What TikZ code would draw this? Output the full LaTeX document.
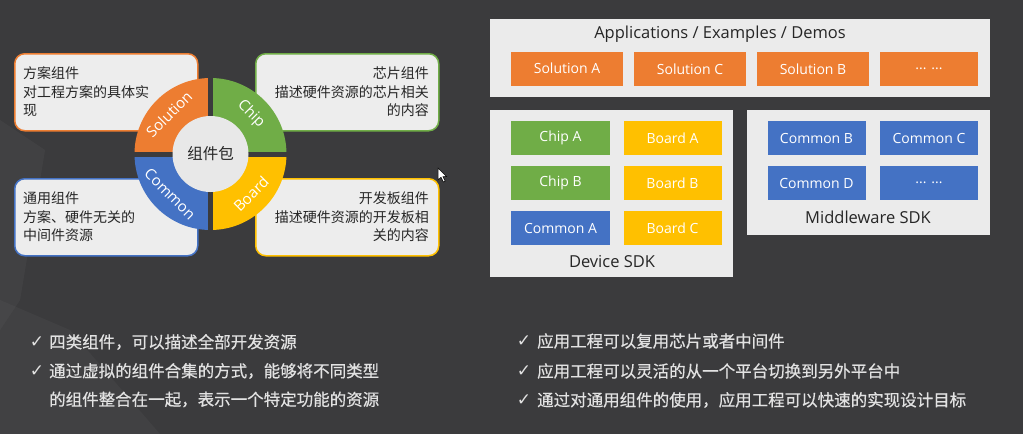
\documentclass[tikz,border=0pt]{standalone}
\usepackage{fontspec}
\setmainfont{Open Sans}
\newfontfamily\cjk{Noto Sans CJK SC}
\newfontfamily\cjkb[FakeBold=0.5]{Noto Sans CJK SC}
\newfontfamily\dejavu{DejaVu Sans}
\definecolor{bg}{HTML}{3B3B3D}
\definecolor{panel}{HTML}{EBEBEB}
\definecolor{boxfill}{HTML}{EDEDED}
\definecolor{innerfill}{HTML}{E8E8E8}
\definecolor{corange}{HTML}{ED7D31}
\definecolor{cgreen}{HTML}{70AD47}
\definecolor{cyellow}{HTML}{FFC000}
\definecolor{cblue}{HTML}{4472C4}
\definecolor{txtdark}{HTML}{262626}
\definecolor{txtlight}{HTML}{E2E2E2}
\begin{document}
\begin{tikzpicture}[x=1pt,y=-1pt,
  descbox/.style={draw, line width=1.5pt, rounded corners=10pt, fill=boxfill,
    minimum width=183pt, minimum height=77pt, inner sep=0pt, anchor=north west},
  ltext/.style={inner sep=0pt, anchor=west, text=txtdark, font=\cjk\fontsize{14}{18.5}\selectfont},
  rtext/.style={inner sep=0pt, anchor=east, text=txtdark, font=\cjk\fontsize{14}{18.5}\selectfont},
  ringlabel/.style={text=white, font=\fontsize{15}{17}\selectfont, inner sep=0pt},
  panelbox/.style={fill=panel, inner sep=0pt, anchor=north west},
  cbox/.style={inner sep=0pt, minimum height=34pt, text=white,
    font=\fontsize{14}{16}\selectfont},
  paneltitle/.style={text=txtdark, font=\fontsize{16.5}{19}\selectfont, inner sep=0pt},
  bullettext/.style={anchor=west, inner sep=0pt, text=txtlight,
    font=\cjkb\fontsize{16.5}{20}\selectfont},
  checkmark/.style={inner sep=0pt, text=txtlight, font=\dejavu\fontsize{17}{19}\selectfont}
]
\useasboundingbox (0,0) rectangle (1023,434);
\fill[bg] (0,0) rectangle (1023,434);
% faint background shapes
\fill[white, opacity=0.035] (0,120) -- (45,150) -- (20,300) -- (0,330) -- cycle;
\fill[white, opacity=0.03] (0,300) -- (70,330) -- (160,434) -- (0,434) -- cycle;

% description boxes
\node[descbox, draw=corange] (soldesc) at (14,53) {};
\node[descbox, draw=cgreen] (chipdesc) at (255,53) {};
\node[descbox, draw=cblue] (comdesc) at (14,178) {};
\node[descbox, draw=cyellow] (boarddesc) at (255,178) {};
\node[ltext] (sol1) at (23,73.5) {方案组件};
\node[ltext] (sol2) at (23,92) {对工程方案的具体实};
\node[ltext] (sol3) at (23,110.5) {现};
\node[rtext] (chip1) at (429,73.5) {芯片组件};
\node[rtext] (chip2) at (429,92) {描述硬件资源的芯片相关};
\node[rtext] (chip3) at (429,110.5) {的内容};
\node[ltext] (com1) at (23,198.5) {通用组件};
\node[ltext] (com2) at (23,217) {方案、硬件无关的};
\node[ltext] (com3) at (23,235.5) {中间件资源};
\node[rtext] (board1) at (429,198.5) {开发板组件};
\node[rtext] (board2) at (429,217) {描述硬件资源的开发板相};
\node[rtext] (board3) at (429,235.5) {关的内容};

% ring
\coordinate (c) at (210.5,154);
\fill[corange] (c) -- ++(180:76) arc[start angle=180, end angle=270, radius=76] -- cycle;
\fill[cgreen]  (c) -- ++(270:76) arc[start angle=270, end angle=360, radius=76] -- cycle;
\fill[cyellow] (c) -- ++(0:76)   arc[start angle=0,   end angle=90,  radius=76] -- cycle;
\fill[cblue]   (c) -- ++(90:76)  arc[start angle=90,  end angle=180, radius=76] -- cycle;
\fill[bg] (208,77) rectangle (213,231);
\fill[bg] (134,151.6) rectangle (287,156.6);
\fill[innerfill] (c) circle[radius=38];
\node[inner sep=0pt, text=txtdark, font=\cjk\fontsize{15.5}{18}\selectfont] (pkg) at (c) {组件包};
\node[ringlabel, rotate=45]  (lsol)   at (169,114) {Solution};
\node[ringlabel, rotate=-45] (lchip)  at (251,114) {Chip};
\node[ringlabel, rotate=-45] (lcom)   at (170,194) {Common};
\node[ringlabel, rotate=45]  (lboard) at (251,194) {Board};

% mouse pointer
\fill[white, draw=black, line width=0.5pt] (438,168) -- (438,180) -- (441,177.2)
  -- (443.4,182) -- (445.2,181.2) -- (442.9,176.6) -- (446.6,176.6) -- cycle;

% right side panels
\node[panelbox, minimum width=500pt, minimum height=78pt] (apppanel) at (490,19) {};
\node[paneltitle] (apptitle) at (720,34) {Applications / Examples / Demos};
\node[cbox, fill=corange, minimum width=112pt] (solA) at (567,68.5) {Solution A};
\node[cbox, fill=corange, minimum width=112pt] (solC) at (690,69) {Solution C};
\node[cbox, fill=corange, minimum width=112pt] (solB) at (813,69) {Solution B};
\node[cbox, fill=corange, minimum width=98pt]  (solD) at (929,69) {... ...};

\node[panelbox, minimum width=243pt, minimum height=167pt] (devpanel) at (490,110) {};
\node[cbox, fill=cgreen,  minimum width=99pt] (chipA)  at (560.5,138) {Chip A};
\node[cbox, fill=cyellow, minimum width=98pt] (boardA) at (672.5,138) {Board A};
\node[cbox, fill=cgreen,  minimum width=99pt] (chipB)  at (560.5,183.3) {Chip B};
\node[cbox, fill=cyellow, minimum width=98pt] (boardB) at (672.5,183.3) {Board B};
\node[cbox, fill=cblue,   minimum width=99pt] (comA)   at (560.5,228) {Common A};
\node[cbox, fill=cyellow, minimum width=98pt] (boardC) at (672.5,228) {Board C};
\node[paneltitle] (devtitle) at (612,262) {Device SDK};

\node[panelbox, minimum width=243pt, minimum height=125pt] (midpanel) at (747,110) {};
\node[cbox, fill=cblue, minimum width=98pt] (comB) at (816.5,138) {Common B};
\node[cbox, fill=cblue, minimum width=98pt] (comC) at (929,138) {Common C};
\node[cbox, fill=cblue, minimum width=98pt] (comD) at (816.5,183) {Common D};
\node[cbox, fill=cblue, minimum width=98pt] (comE) at (929,183) {... ...};
\node[paneltitle] (midtitle) at (868,217) {Middleware SDK};

% bullets
\node[checkmark] (k1) at (37,342) {✓};
\node[bullettext] (t1) at (49,342) {四类组件，可以描述全部开发资源};
\node[checkmark] (k2) at (37,371) {✓};
\node[bullettext] (t2) at (49,371) {通过虚拟的组件合集的方式，能够将不同类型};
\node[bullettext] (t3) at (49,399.5) {的组件整合在一起，表示一个特定功能的资源};
\node[checkmark] (k4) at (524,341) {✓};
\node[bullettext] (t4) at (537,341) {应用工程可以复用芯片或者中间件};
\node[checkmark] (k5) at (524,371) {✓};
\node[bullettext] (t5) at (537,371) {应用工程可以灵活的从一个平台切换到另外平台中};
\node[checkmark] (k6) at (524,400) {✓};
\node[bullettext] (t6) at (537,400) {通过对通用组件的使用，应用工程可以快速的实现设计目标};
\end{tikzpicture}
\end{document}
